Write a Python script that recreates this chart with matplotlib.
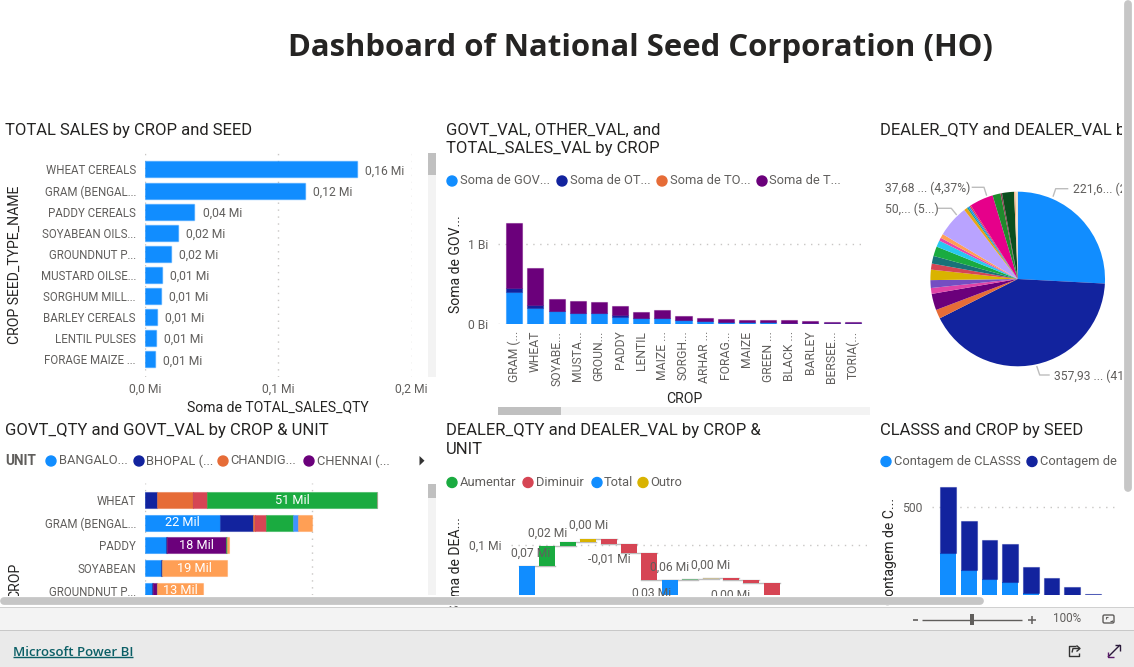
import matplotlib
matplotlib.use("Agg")
from matplotlib import pyplot as plt
from matplotlib.colors import to_rgba
from matplotlib.patches import Rectangle, Circle, Polygon, FancyBboxPatch
from matplotlib.transforms import IdentityTransform

W, H = 1134, 667
GRAY = "#605E5C"
DARK = "#252423"
GRID = "#C8C6C4"
BLUE, NAVY, ORANGE, PURPLE = "#118DFF", "#12239E", "#E66C37", "#6B007B"
RED, GREEN, YELLOW, PEACH = "#D64554", "#1AAB40", "#D9B300", "#FF9F55"

# panel 1
seed_names = ["WHEAT CEREALS", "GRAM (BENGAL...", "PADDY CEREALS", "SOYABEAN OILS...", "GROUNDNUT P...",
	"MUSTARD OILSE...", "SORGHUM MILL...", "BARLEY CEREALS", "LENTIL PULSES", "FORAGE MAIZE ..."]
seed_sales = [0.159, 0.12, 0.037, 0.0246, 0.0195, 0.0128, 0.0118, 0.0088, 0.008, 0.0073]
seed_labels = ["0,16 Mi", "0,12 Mi", "0,04 Mi", "0,02 Mi", "0,02 Mi", "0,01 Mi", "0,01 Mi", "0,01 Mi", "0,01 Mi", "0,01 Mi"]

# panel 2
crop_names = ["GRAM (...", "WHEAT", "SOYABE...", "MUSTA...", "GROUN...", "PADDY", "LENTIL", "MAIZE ...", "SORGH...",
	"ARHAR ...", "FORAG...", "MAIZE", "GREEN ...", "BLACK ...", "BARLEY", "BERSEE...", "TORIA(..."]
govt_val = [0.393, 0.197, 0.155, 0.13, 0.13, 0.088, 0.07, 0.075, 0.046, 0.03, 0.02, 0.02, 0.02, 0.015, 0.012, 0.008, 0.008]
other_val = [0.059, 0.033, 0.0, 0.0, 0.0, 0.017, 0.0, 0.0, 0.0, 0.0, 0.0, 0.0, 0.0, 0.0, 0.0, 0.0, 0.0]
total_val = [0.808, 0.47, 0.15, 0.155, 0.146, 0.121, 0.08, 0.092, 0.05, 0.041, 0.039, 0.022, 0.022, 0.027, 0.021, 0.013, 0.013]

# panel 3
pie_values = [221.6, 357.93, 14.3, 26.0, 9.3, 12.4, 16.5, 9.6, 12.2, 15.3, 10.3, 5.0, 6.5, 50.9, 5.2, 2.4, 2.4, 2.4, 37.68, 12.7, 2.4, 19.0, 2.4, 3.3]
pie_colors = [BLUE, NAVY, ORANGE, PURPLE, "#E044A7", "#744EC2", YELLOW, RED, "#197278", GREEN, "#28C8F0", "#E645AB", PEACH,
	"#B9A3FF", "#E8A317", "#1AA08C", BLUE, RED, "#E6008A", "#1F8A2C", "#8A3A50", "#0B4F1E", "#F4B183", "#F3E3C8"]

# panel 4
unit_crops = ["WHEAT", "GRAM (BENGAL...", "PADDY", "SOYABEAN", "GROUNDNUT P..."]
unit_bangalore = [0, 22.4, 6.2, 4.7, 2.1]
unit_bhopal = [3.7, 10.0, 0.5, 0.4, 0.2]
unit_chandigarh = [10.8, 0.6, 0, 0, 0]
unit_chennai = [0, 0, 17.5, 0, 1.3]
unit_red = [4.2, 3.4, 0, 0, 0]
unit_green = [50.8, 8.0, 0.5, 0, 0]
unit_light = [0, 1.6, 0, 0, 0]
unit_peach = [0, 4.0, 0.5, 19.5, 13.8]
unit_series = [unit_bangalore, unit_bhopal, unit_chandigarh, unit_chennai, unit_red, unit_green, unit_light, unit_peach]
unit_colors = [BLUE, NAVY, ORANGE, PURPLE, RED, GREEN, "#4092FF", PEACH]
unit_labels = ["51 Mil", "22 Mil", "18 Mil", "19 Mil", "13 Mil"]
unit_label_series = [5, 0, 3, 7, 7]

# panel 5
fall_steps = [0.07, 0.0277, 0.0065, 0.0042, -0.0075, -0.0126, -0.038, 0.0503, 0.0019, 0.0014, -0.0038, -0.0042, -0.026]
fall_is_total = [True, False, False, False, False, False, False, True, False, False, False, False, False]
fall_colors = [BLUE, GREEN, GREEN, YELLOW, RED, RED, RED, BLUE, "#7FB98F", "#C9BE9A", RED, RED, RED]

# panel 6
class_total = [583, 441, 360, 341, 246, 197, 159, 130]
class_blue = [304, 233, 193, 183, 136, 0, 0, 0]

plt.rcParams["font.family"] = ["Roboto", "DejaVu Sans"]
fig = plt.figure(figsize=(W / 100, H / 100), dpi=100, facecolor="white")

def addAxes(l, t, r, b):
	ax = fig.add_axes([l / W, 1 - b / H, (r - l) / W, (b - t) / H])
	ax.patch.set_alpha(0)
	for s in ax.spines.values():
		s.set_visible(False)
	ax.tick_params(length=0, labelsize=8.7, labelcolor=GRAY)
	return ax

def txt(x, y, s, size=8.7, color=GRAY, ha="left", va="center", **kw):
	return fig.text(x / W, 1 - y / H, s, fontsize=size, color=color, ha=ha, va=va, **kw)

def title(x, y, s):
	txt(x, y, s, size=12, color=DARK)

def legend(items, y, size=9.3):
	for dot_x, text_x, name, color in items:
		fig.add_artist(Circle((dot_x, H - y), 5, color=color, transform=IdentityTransform()))
		txt(text_x, y, name, size=size)

def barEdge(color):
	return to_rgba(color, 0.45)

def dotted(ax, axis):
	ax.grid(True, axis=axis, color=GRID, linestyle=(0, (1, 4)), linewidth=1)
	ax.set_axisbelow(True)

# title
txt(640, 48, "Dashboard of National Seed Corporation (HO)", size=22.4, color=DARK, ha="center", family=["Open Sans"], weight="bold")

# panel 1: horizontal bars
title(5, 130, "TOTAL SALES by CROP and SEED")
ax = addAxes(145, 153, 411.5, 377)
for i, v in enumerate(seed_sales):
	ax.barh(i, v, height=0.76, color=BLUE, edgecolor=barEdge(BLUE), linewidth=1)
	ax.annotate(seed_labels[i], (v, i), xytext=(6, -1), textcoords="offset points", va="center", fontsize=8.7, color=GRAY, annotation_clip=False)
ax.set_xlim(0, 0.2)
ax.set_ylim(9.83, -0.78)
ax.set_yticks(range(len(seed_names)), seed_names)
ax.set_xticks([0, 0.1, 0.2], ["0,0 Mi", "0,1 Mi", "0,2 Mi"])
ax.tick_params(axis="y", pad=6.5, labelsize=8.3)
ax.tick_params(axis="x", pad=4.5)
dotted(ax, "x")
txt(278, 407, "Soma de TOTAL_SALES_QTY", size=10.1, color=DARK, ha="center")
txt(15, 265, "CROP SEED_TYPE_NAME", size=10.1, color=DARK, ha="center", rotation=90)

# panel 2: stacked columns
title(446, 130, "GOVT_VAL, OTHER_VAL, and")
title(446, 149, "TOTAL_SALES_VAL by CROP")
legend([(452, 460, "Soma de GOV...", BLUE), (562, 570, "Soma de OT...", NAVY),
	(662, 670, "Soma de TO...", ORANGE), (762, 769, "Soma de T...", PURPLE)], 181)
ax = addAxes(498, 210, 865, 323.7)
bottom = [0.0] * len(crop_names)
for vals, color in [(govt_val, BLUE), (other_val, NAVY), (total_val, PURPLE)]:
	ax.bar(range(len(crop_names)), vals, bottom=bottom, width=0.76, color=color, edgecolor=barEdge(color), linewidth=0.8)
	bottom = [b + v for b, v in zip(bottom, vals)]
ax.set_xlim((498 - 514.3) / 21.15, (865 - 514.3) / 21.15)
ax.set_ylim(0, (323.7 - 210) / 79.7)
ax.set_yticks([0, 1], ["0 Bi", "1 Bi"])
ax.tick_params(axis="y", pad=7)
ax.set_xticks(range(len(crop_names)), crop_names, rotation=90)
ax.tick_params(axis="x", pad=5)
dotted(ax, "y")
txt(684, 399, "CROP", size=10.1, color=DARK, ha="center")
txt(456, 264, "Soma de GOV...", size=10.1, color=DARK, ha="center", rotation=90)

# panel 3: pie
title(880, 130, "DEALER_QTY and DEALER_VAL b")
ax = addAxes(1017.7 - 87.3, 279 - 87.3, 1017.7 + 87.3, 279 + 87.3)
ax.pie(pie_values, colors=pie_colors, startangle=90, counterclock=False, radius=1)
ax.set_xlim(-1, 1)
ax.set_ylim(-1, 1)
txt(1073, 189, "221,6... (2", size=8.7)
txt(1054, 376, "357,93 ... (41,", size=8.7)
txt(885, 188, "37,68 ... (4,37%)", size=8.7)
txt(885, 209, "50,... (5...)", size=8.7)

# panel 4: stacked bars by unit
title(5, 431, "GOVT_QTY and GOVT_VAL by CROP & UNIT")
txt(5.5, 461, "UNIT", size=9.8, weight="bold")
legend([(51, 58.5, "BANGALO...", BLUE), (139, 146.5, "BHOPAL (...", NAVY),
	(223, 230, "CHANDIG...", ORANGE), (309, 317, "CHENNAI (...", PURPLE)], 461)
ax = addAxes(145, 483, 428, 595)
left = [0.0] * len(unit_crops)
for vals, color in zip(unit_series, unit_colors):
	ax.barh(range(len(unit_crops)), vals, left=left, height=0.7, color=color, edgecolor=barEdge(color), linewidth=0.8)
	left = [a + v for a, v in zip(left, vals)]
for i, s in enumerate(unit_label_series):
	start = sum(unit_series[k][i] for k in range(s))
	ax.text(start + unit_series[s][i] / 2, i, unit_labels[i], color="white", fontsize=9.2, ha="center", va="center", clip_on=True)
ax.set_xlim(0, 283 / 3.333)
ax.set_ylim((595 - 500) / 22.7, (483 - 500) / 22.7)
ax.set_yticks(range(len(unit_crops)), unit_crops)
ax.set_xticks([0, 50], ["", ""])
ax.tick_params(axis="y", pad=6.5, labelsize=8.3)
dotted(ax, "x")
txt(15, 563, "CROP", size=10.1, color=DARK, ha="center", va="top", rotation=90)

# panel 5: waterfall
title(446, 431, "DEALER_QTY and DEALER_VAL by CROP &")
title(446, 450, "UNIT")
legend([(452, 460, "Aumentar", GREEN), (528, 536, "Diminuir", RED), (597, 604, "Total", BLUE), (643, 650.5, "Outro", YELLOW)], 482.5)
ax = addAxes(511, 530, 867, 595)
level = 0.0
for i, step in enumerate(fall_steps):
	start = 0.0 if fall_is_total[i] else level
	ax.bar(i, step, bottom=start, width=0.78, color=fall_colors[i], zorder=3)
	level = start + step
	if i < len(fall_steps) - 1:
		ax.plot([i - 0.39, i + 1.39], [level, level], color="#BDBDBD", linewidth=1, zorder=2)
ax.set_xlim((511 - 527) / 20.4, (867 - 527) / 20.4)
ax.set_ylim(0.1 - (595 - 544.7) / 711, 0.1 + (544.7 - 530) / 711)
ax.set_yticks([0.1], ["0,1 Mi"])
ax.tick_params(axis="y", pad=7)
ax.set_xticks([])
dotted(ax, "y")
for x, y, s in [(530.5, 553.3, "0,07 Mi"), (547.5, 533.3, "0,02 Mi"), (588.5, 525.3, "0,00 Mi"), (609, 559.3, "-0,01 Mi"),
	(670, 567.3, "0,06 Mi"), (711, 565.7, "0,00 Mi"), (652, 593.5, "0,03 Mi"), (731, 595, "0,00 Mi")]:
	txt(x, y, s, ha="center")
txt(456, 517, "Soma de DEA...", size=10.1, color=DARK, ha="center", va="top", rotation=90)

# panel 6: stacked columns
title(880, 431, "CLASSS and CROP by SEED")
legend([(886, 894, "Contagem de CLASSS", BLUE), (1032, 1040, "Contagem de", NAVY)], 461.5)
ax = addAxes(932, 480, 1119, 595)
xs = range(len(class_total))
ax.bar(xs, class_blue, width=0.76, color=BLUE, zorder=3)
ax.bar(xs, [t - b for t, b in zip(class_total, class_blue)], bottom=class_blue, width=0.76, color=NAVY, edgecolor=barEdge(NAVY), linewidth=0.8, zorder=3)
ax.set_xlim((932 - 948) / 20.7, (1119 - 948) / 20.7)
scale = (625 - 506.7) / 500
ax.set_ylim((625 - 595) / scale, (625 - 480) / scale)
ax.set_yticks([500], ["500"])
ax.tick_params(axis="y", pad=7)
ax.set_xticks([])
dotted(ax, "y")
txt(890, 498, "Contagem de C...", size=10.1, color=DARK, ha="center", va="top", rotation=90)

# report chrome on top of everything
top = fig.add_axes([0, 0, 1, 1], zorder=10)
top.set_xlim(0, W)
top.set_ylim(H, 0)
top.axis("off")
top.patch.set_alpha(0)

def rect(l, t, r, b, color):
	top.add_patch(Rectangle((l, t), r - l, b - t, color=color, linewidth=0))

def line(xs, ys, color="#BDBDBD", lw=1, cap="butt"):
	top.plot(xs, ys, color=color, linewidth=lw, solid_capstyle=cap, solid_joinstyle="round")

# pie leader lines
line([1068.3, 1055.7, 1053], [188.7, 188.7, 196.7])
line([1049.7, 1039.7, 1036.7], [375, 375, 366])
line([971.7, 984, 986.7], [187.3, 187.3, 195.7])
line([938, 951.3, 956.7], [208.3, 208.3, 215])

# scrollbars inside the visuals
for t, thumb, b in [(153, 175, 377), (484, 498, 595)]:
	rect(428, t, 436, b, "#F3F3F3")
	rect(428, t, 436, thumb, "#C0C0C0")
rect(498, 407, 870, 415, "#F3F3F3")
rect(498, 407, 561, 415, "#C0C0C0")

# page edges, the scrollbars have round ends
rect(0, 596, 1134, 605, "white")
rect(1122, 0, 1134, 597, "white")
line([1128, 1128], [4, 488], color="#C6C6C6", lw=5.6, cap="round")
line([4, 980], [601, 601], color="#C6C6C6", lw=5.6, cap="round")
rect(0, 607, 1134, 608, "#D0D0D0")
rect(0, 608, 1134, 630, "#F3F3F3")
rect(0, 630, 1134, 631, "#C8C8C8")
rect(0, 631, 1134, 667, "#EAEAEA")

# bottom bars
top.text(13, 652, "Microsoft Power BI", fontsize=9.5, color="#0B5F66", va="center", family=["Open Sans"], weight="semibold")
line([13, 133], [657, 657], color="#0B5F66", lw=1)
line([913, 917.5], [619.5, 619.5], color=GRAY, lw=1.2)
line([922, 1022], [619.5, 619.5], color=GRAY)
rect(970, 613.5, 974, 625, GRAY)
line([1028, 1036], [619.5, 619.5], color=GRAY, lw=1.1)
line([1032, 1032], [615.5, 623.5], color=GRAY, lw=1.1)
top.text(1067, 619, "100%", fontsize=8.4, color=GRAY, ha="center", va="center")
top.add_patch(FancyBboxPatch((1103, 615), 11, 8, boxstyle="round,pad=0,rounding_size=1.5", fill=False, edgecolor=GRAY, linewidth=1))
line([1105.5, 1105.5, 1107.5], [618.5, 616.8, 616.8], color=GRAY, lw=0.8)
line([1109.5, 1111.5, 1111.5], [621.2, 621.2, 619.5], color=GRAY, lw=0.8)
# share icon
line([1076, 1069, 1069, 1078.5, 1078.5], [645.5, 645.5, 655.5, 655.5, 652.5], color="#333333", lw=1)
line([1072, 1073, 1079.5], [652.5, 648.5, 648.5], color="#333333", lw=1)
line([1076.5, 1080, 1076.5], [645.5, 648.5, 651.5], color="#333333", lw=1)
# expand icon
line([1108, 1120], [657, 645], color="#2A1A3A", lw=1)
line([1114.5, 1120, 1120], [645, 645, 650.5], color="#2A1A3A", lw=1)
line([1108, 1108, 1113.5], [651.5, 657, 657], color="#5A1A6A", lw=1)
top.add_patch(Polygon([(419.5, 456), (419.5, 465.5), (424.5, 460.7)], color="#333333", linewidth=0))

fig.savefig("out.png", dpi=100)
